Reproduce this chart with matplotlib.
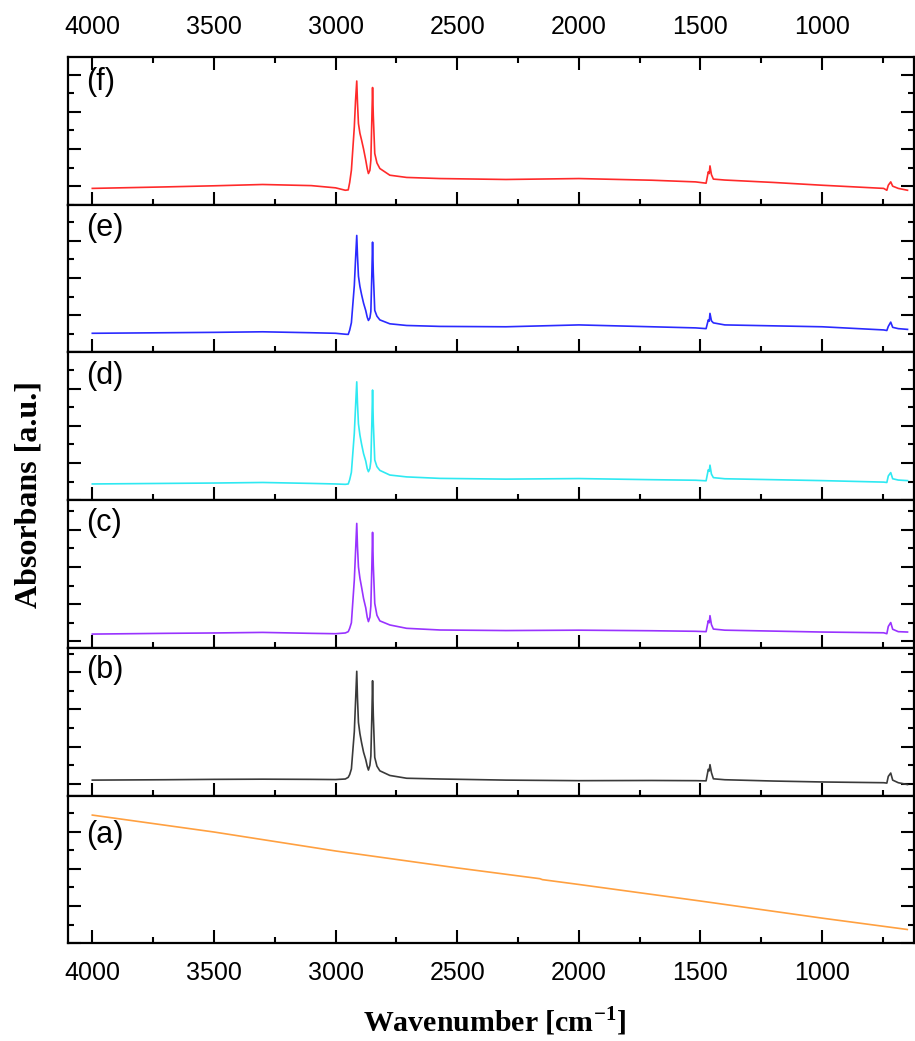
import numpy as np
import matplotlib
matplotlib.use("Agg")
import matplotlib.pyplot as plt
from matplotlib.ticker import MultipleLocator

plt.rcParams["mathtext.fontset"] = "custom"
plt.rcParams["mathtext.bf"] = "Liberation Serif:bold"
plt.rcParams["mathtext.rm"] = "Liberation Serif"

# wavenumber anchor points (cm-1) shared by spectra b-f
wn = [4000, 3700, 3500, 3300, 3100, 3000, 2960, 2948, 2942, 2935, 2923, 2918, 2913, 2910,
      2906, 2900, 2893, 2885, 2876, 2870, 2865, 2859, 2855, 2851, 2848, 2845, 2839, 2830,
      2818, 2777, 2708, 2571, 2300, 2000, 1700, 1520, 1477, 1468, 1464, 1461, 1455, 1447,
      1400, 1200, 1000, 747, 734, 728, 718, 710, 687, 649]

spec_f = [-0.012, -0.004, 0.002, 0.009, 0.003, -0.009, -0.022, -0.020, 0.020, 0.086, 0.319, 0.460, 0.566, 0.450,
          0.337, 0.285, 0.247, 0.200, 0.140, 0.095, 0.068, 0.085, 0.140, 0.360, 0.531, 0.380, 0.176, 0.125,
          0.095, 0.059, 0.047, 0.041, 0.036, 0.041, 0.032, 0.023, 0.016, 0.077, 0.068, 0.109, 0.062, 0.038,
          0.033, 0.020, 0.005, -0.012, -0.022, 0.005, 0.023, 0.000, -0.012, -0.022]
spec_e = [0.103, 0.106, 0.108, 0.111, 0.106, 0.103, 0.098, 0.097, 0.120, 0.160, 0.360, 0.500, 0.629, 0.520,
          0.410, 0.355, 0.310, 0.265, 0.225, 0.190, 0.172, 0.185, 0.220, 0.420, 0.593, 0.430, 0.226, 0.195,
          0.175, 0.154, 0.145, 0.140, 0.138, 0.148, 0.138, 0.132, 0.128, 0.175, 0.168, 0.210, 0.170, 0.159,
          0.148, 0.143, 0.138, 0.121, 0.118, 0.140, 0.163, 0.135, 0.128, 0.124]
spec_d = [0.087, 0.090, 0.092, 0.095, 0.090, 0.087, 0.085, 0.087, 0.110, 0.150, 0.360, 0.500, 0.636, 0.520,
          0.410, 0.350, 0.300, 0.250, 0.210, 0.170, 0.153, 0.170, 0.210, 0.410, 0.592, 0.420, 0.216, 0.180,
          0.160, 0.135, 0.125, 0.117, 0.113, 0.116, 0.110, 0.107, 0.104, 0.163, 0.155, 0.188, 0.140, 0.121,
          0.115, 0.110, 0.105, 0.097, 0.095, 0.130, 0.148, 0.115, 0.108, 0.105]
spec_c = [0.039, 0.043, 0.045, 0.048, 0.043, 0.041, 0.045, 0.052, 0.070, 0.100, 0.330, 0.480, 0.634, 0.510,
          0.400, 0.340, 0.290, 0.230, 0.180, 0.130, 0.106, 0.130, 0.190, 0.400, 0.586, 0.410, 0.204, 0.140,
          0.110, 0.088, 0.070, 0.061, 0.058, 0.060, 0.057, 0.054, 0.052, 0.111, 0.100, 0.138, 0.090, 0.066,
          0.060, 0.055, 0.050, 0.046, 0.041, 0.080, 0.101, 0.065, 0.052, 0.050]
spec_b = [0.020, 0.022, 0.024, 0.025, 0.024, 0.023, 0.026, 0.035, 0.050, 0.080, 0.280, 0.440, 0.605, 0.460,
          0.330, 0.270, 0.220, 0.170, 0.130, 0.095, 0.074, 0.100, 0.150, 0.360, 0.554, 0.370, 0.142, 0.095,
          0.070, 0.045, 0.030, 0.026, 0.020, 0.017, 0.018, 0.017, 0.016, 0.078, 0.070, 0.103, 0.060, 0.027,
          0.022, 0.015, 0.010, 0.006, 0.004, 0.040, 0.058, 0.020, 0.006, -0.004]

# spectrum a is a sloping line
wn_a = [4000, 3500, 3000, 2500, 2160, 2150, 2000, 1500, 1000, 650]
spec_a = [0.689, 0.598, 0.496, 0.405, 0.347, 0.342, 0.316, 0.227, 0.135, 0.074]

labels = ["(f)", "(e)", "(d)", "(c)", "(b)", "(a)"]
colors = ["#ff2a2a", "#2a2aff", "#2ee9f2", "#9933ff", "#3a3a3a", "#ffa040"]
ylims = [(-0.1, 0.695), (0.0, 0.794), (0.0, 0.794), (-0.035, 0.759), (-0.063, 0.731), (0.0, 0.794)]
label_y = [0.83, 0.84, 0.84, 0.845, 0.85, 0.73]

xs = [wn, wn, wn, wn, wn, wn_a]
ys = [spec_f, spec_e, spec_d, spec_c, spec_b, spec_a]

fig, axes = plt.subplots(6, 1, figsize=(9.15, 10.41), dpi=100, sharex=True,
                         gridspec_kw={"hspace": 0})
fig.subplots_adjust(left=0.0743, right=0.999, top=0.9452, bottom=0.0939)

tick_font = "Liberation Sans"
for i, ax in enumerate(axes):
    ax.plot(xs[i], ys[i], color=colors[i], lw=1.2)
    ax.set_ylim(*ylims[i])
    ax.set_xlim(4100, 622)
    ax.xaxis.set_major_locator(MultipleLocator(500))
    ax.xaxis.set_minor_locator(MultipleLocator(250))
    ax.yaxis.set_major_locator(MultipleLocator(0.2))
    ax.yaxis.set_minor_locator(MultipleLocator(0.1))
    ax.tick_params(which="both", direction="in", left=True, right=True,
                   bottom=True, top=(i == 0), labelleft=False, width=1.5,
                   labelbottom=(i == 5), labeltop=(i == 0))
    ax.tick_params(which="major", length=9.5, pad=13, labelsize=18)
    ax.tick_params(which="minor", length=4)
    for sp in ax.spines.values():
        sp.set_linewidth(1.6)
    for t in ax.get_xticklabels():
        t.set_fontfamily(tick_font)
    ax.text(0.021, label_y[i], labels[i], transform=ax.transAxes,
            fontsize=22, family=tick_font, va="center", ha="left")

fig.text(0.032, 0.5245, "Absorbans [a.u.]", rotation=90, ha="center", va="center",
         fontsize=23, fontweight="bold", family="Liberation Serif")
fig.text(0.54, 0.019, "Wavenumber [cm$^{\\mathbf{-1}}$]", ha="center", va="center",
         fontsize=21.5, fontweight="bold", family="Liberation Serif")

fig.savefig("out.png", dpi=100)
